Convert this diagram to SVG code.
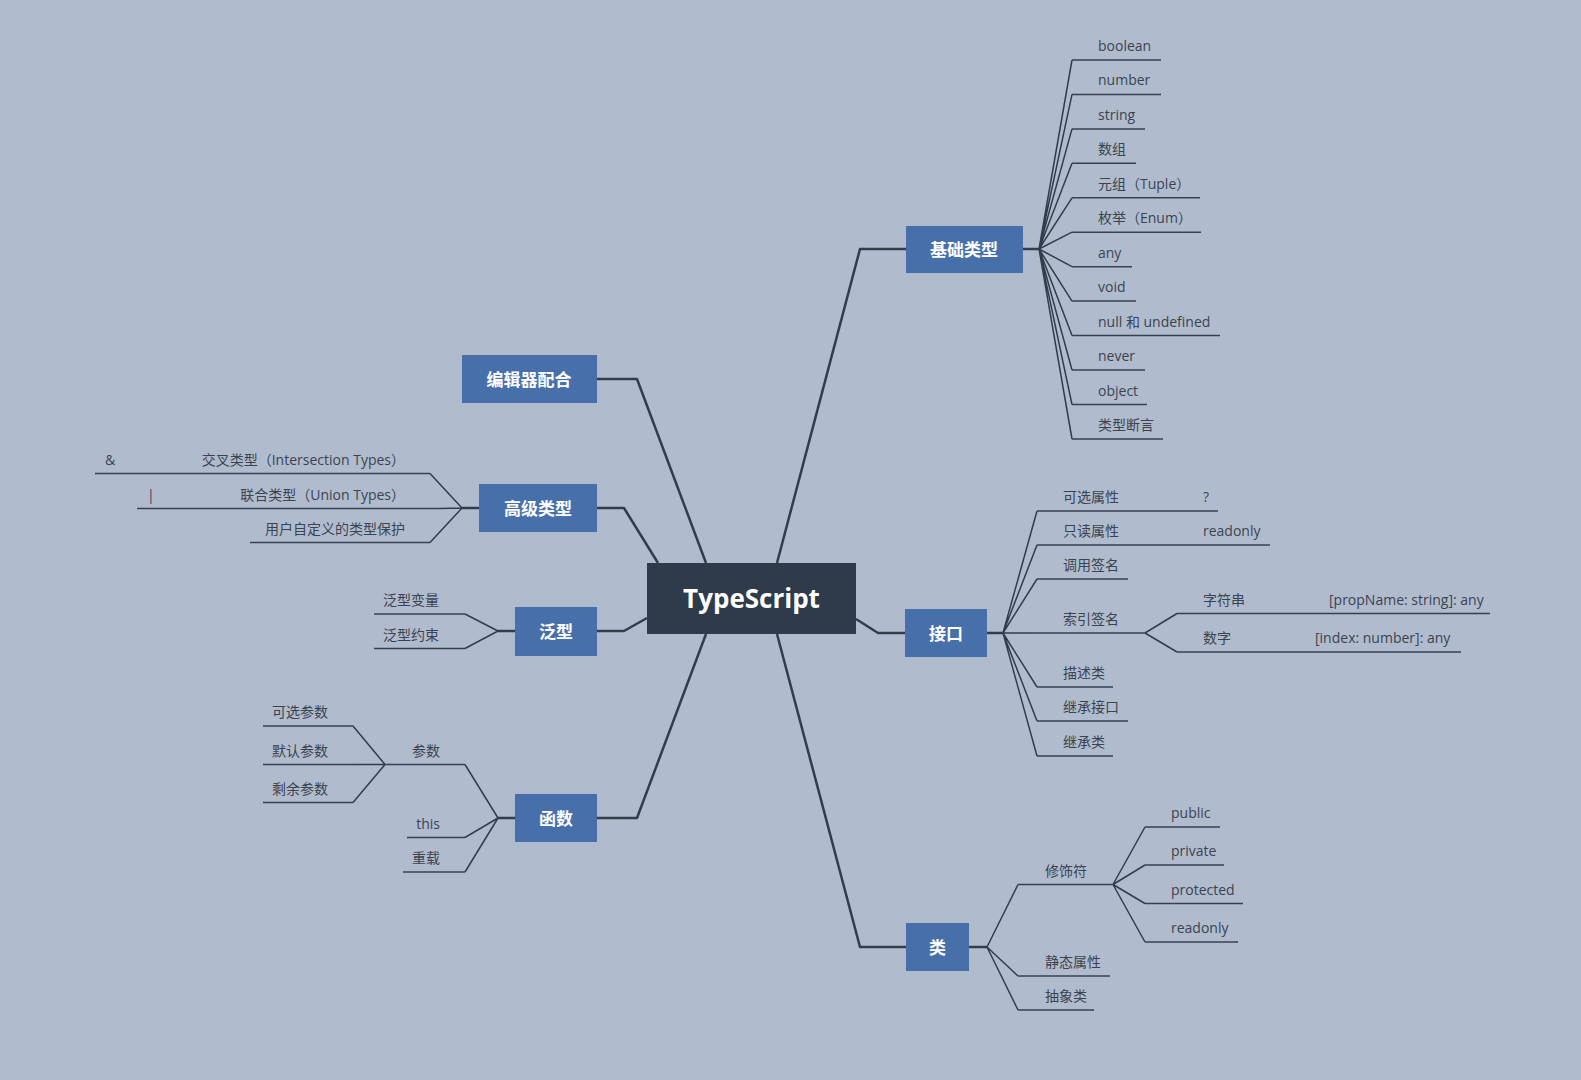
<svg xmlns="http://www.w3.org/2000/svg" width="1581" height="1080" viewBox="0 0 1581 1080">
<style>
.bg{fill:#b0bccd}
.main rect{fill:#4770ab}
.main text{fill:#ffffff;font-family:"Open Sans","Noto Sans CJK SC",sans-serif;font-size:17px;font-weight:bold;text-anchor:middle}
.root rect{fill:#2f3b4b}
.root text{fill:#ffffff;font-family:"Open Sans","Noto Sans CJK SC",sans-serif;font-size:26px;font-weight:bold;text-anchor:middle}
.leaf text{fill:#3b4351;font-family:"Open Sans","Noto Sans CJK SC",sans-serif;font-size:14px}
.leaf .r{text-anchor:end}
.leaf line{stroke:#36414f;stroke-width:1.5}
#connectors path{fill:none;stroke:#323d4c;stroke-linejoin:round}
#connectors .m{stroke-width:2.5}
#connectors .s{stroke-width:1.5}
</style>
<rect class="bg" x="0" y="0" width="1581" height="1080"/>

<g id="connectors">
  <!-- main branches -->
  <path class="m" d="M856,619 L878,633 L905,633"/>
  <path class="m" d="M777,563 L860,249 L906,249"/>
  <path class="m" d="M706,563 L637,379 L597,379"/>
  <path class="m" d="M658,563 L624,508 L597,508"/>
  <path class="m" d="M647,618 L624,631 L597,631"/>
  <path class="m" d="M706,634 L637,818 L597,818"/>
  <path class="m" d="M777,634 L860,947 L906,947"/>
  <!-- stems -->
  <path class="m" d="M1023,249 L1039,249"/>
  <path class="m" d="M987,633 L1003,633"/>
  <path class="m" d="M969,947 L987,947"/>
  <path class="m" d="M479,508 L462,508"/>
  <path class="m" d="M515,631 L498,631"/>
  <path class="m" d="M515,818 L498,818"/>
  <!-- 基础类型 fan -->
  <path class="s" d="M1039,249 L1072,60 M1039,249 L1072,94.4 M1039,249 L1072,128.9 M1039,249 L1072,163.3 M1039,249 L1072,197.8 M1039,249 L1072,232.2 M1039,249 L1072,266.7 M1039,249 L1072,301.1 M1039,249 L1072,335.6 M1039,249 L1072,370 M1039,249 L1072,404.5 M1039,249 L1072,439"/>
  <!-- 高级类型 fan -->
  <path class="s" d="M462,508 L430,473.5 M462,508 L440,508.5 M462,508 L430,542.5"/>
  <!-- 泛型 fan -->
  <path class="s" d="M498,631 L465,614 M498,631 L465,648.5"/>
  <!-- 函数 fan -->
  <path class="s" d="M498,818 L465,764.5 M498,818 L465,837.5 M498,818 L465,872"/>
  <path class="s" d="M385,764.5 L353,726 M385,764.5 L353,764.5 M385,764.5 L353,802.5"/>
  <!-- 接口 fan -->
  <path class="s" d="M1003,633 L1037,511 M1003,633 L1037,545 M1003,633 L1037,579 M1003,633 L1037,633 M1003,633 L1037,687 M1003,633 L1037,721 M1003,633 L1037,756"/>
  <path class="s" d="M1145,633 L1177,613.5 M1145,633 L1177,652"/>
  <!-- 类 fan -->
  <path class="s" d="M987,947 L1018,884.5 M987,947 L1018,976 M987,947 L1018,1010"/>
  <path class="s" d="M1113,884.5 L1145,827 M1113,884.5 L1145,865 M1113,884.5 L1145,903.5 M1113,884.5 L1145,942"/>
</g>

<g id="root" class="root"><rect x="647" y="563" width="209" height="71"/><text x="751.5" y="608">TypeScript</text></g>

<g id="n-basic" class="main"><rect x="906" y="226" width="117" height="47"/><text x="964" y="256">基础类型</text></g>
<g id="n-editor" class="main"><rect x="462" y="355" width="135" height="48"/><text x="529" y="385.5">编辑器配合</text></g>
<g id="n-advanced" class="main"><rect x="479" y="484" width="118" height="48"/><text x="538" y="514.5">高级类型</text></g>
<g id="n-generic" class="main"><rect x="515" y="607" width="82" height="49"/><text x="556" y="638">泛型</text></g>
<g id="n-function" class="main"><rect x="515" y="794" width="82" height="48"/><text x="556" y="824.5">函数</text></g>
<g id="n-interface" class="main"><rect x="905" y="609" width="82" height="48"/><text x="946" y="639.5">接口</text></g>
<g id="n-class" class="main"><rect x="906" y="923" width="63" height="48"/><text x="937.5" y="953.5">类</text></g>

<!-- 基础类型 leaves -->
<g id="b-boolean" class="leaf"><line x1="1072" y1="60" x2="1161" y2="60"/><text x="1098" y="51">boolean</text></g>
<g id="b-number" class="leaf"><line x1="1072" y1="94.4" x2="1161" y2="94.4"/><text x="1098" y="85.4">number</text></g>
<g id="b-string" class="leaf"><line x1="1072" y1="128.9" x2="1145" y2="128.9"/><text x="1098" y="119.9">string</text></g>
<g id="b-array" class="leaf"><line x1="1072" y1="163.3" x2="1136" y2="163.3"/><text x="1098" y="154.3">数组</text></g>
<g id="b-tuple" class="leaf"><line x1="1072" y1="197.8" x2="1200" y2="197.8"/><text x="1098" y="188.8">元组（Tuple）</text></g>
<g id="b-enum" class="leaf"><line x1="1072" y1="232.2" x2="1201" y2="232.2"/><text x="1098" y="223.2">枚举（Enum）</text></g>
<g id="b-any" class="leaf"><line x1="1072" y1="266.7" x2="1132" y2="266.7"/><text x="1098" y="257.7">any</text></g>
<g id="b-void" class="leaf"><line x1="1072" y1="301.1" x2="1136" y2="301.1"/><text x="1098" y="292.1">void</text></g>
<g id="b-null" class="leaf"><line x1="1072" y1="335.6" x2="1220" y2="335.6"/><text x="1098" y="326.6">null 和 undefined</text></g>
<g id="b-never" class="leaf"><line x1="1072" y1="370" x2="1145" y2="370"/><text x="1098" y="361">never</text></g>
<g id="b-object" class="leaf"><line x1="1072" y1="404.5" x2="1147" y2="404.5"/><text x="1098" y="395.5">object</text></g>
<g id="b-assert" class="leaf"><line x1="1072" y1="439" x2="1163" y2="439"/><text x="1098" y="430">类型断言</text></g>

<!-- 高级类型 leaves -->
<g id="a-intersection" class="leaf"><line x1="95" y1="473.5" x2="430" y2="473.5"/><text class="r" x="405" y="464.5">交叉类型（Intersection Types）</text></g>
<g id="a-amp" class="leaf"><text x="105" y="464.5">&amp;</text></g>
<g id="a-union" class="leaf"><line x1="137" y1="508.5" x2="440" y2="508.5"/><text class="r" x="405" y="499.5">联合类型（Union Types）</text></g>
<g id="a-pipe" class="leaf"><text x="147" y="499.5">|</text></g>
<g id="a-guard" class="leaf"><line x1="250" y1="542.5" x2="430" y2="542.5"/><text class="r" x="405" y="533.5">用户自定义的类型保护</text></g>

<!-- 泛型 leaves -->
<g id="g-var" class="leaf"><line x1="374" y1="614" x2="465" y2="614"/><text class="r" x="439" y="605">泛型变量</text></g>
<g id="g-con" class="leaf"><line x1="374" y1="648.5" x2="465" y2="648.5"/><text class="r" x="439" y="639.5">泛型约束</text></g>

<!-- 函数 leaves -->
<g id="f-params" class="leaf"><line x1="385" y1="764.5" x2="465" y2="764.5"/><text class="r" x="440" y="755.5">参数</text></g>
<g id="f-this" class="leaf"><line x1="407" y1="837.5" x2="465" y2="837.5"/><text class="r" x="440" y="828.5">this</text></g>
<g id="f-overload" class="leaf"><line x1="403" y1="872" x2="465" y2="872"/><text class="r" x="440" y="863">重载</text></g>
<g id="p-optional" class="leaf"><line x1="263" y1="726" x2="353" y2="726"/><text class="r" x="328" y="717">可选参数</text></g>
<g id="p-default" class="leaf"><line x1="263" y1="764.5" x2="353" y2="764.5"/><text class="r" x="328" y="755.5">默认参数</text></g>
<g id="p-rest" class="leaf"><line x1="263" y1="802.5" x2="353" y2="802.5"/><text class="r" x="328" y="793.5">剩余参数</text></g>

<!-- 接口 leaves -->
<g id="i-optional" class="leaf"><line x1="1037" y1="511" x2="1218" y2="511"/><text x="1063" y="502">可选属性</text><text x="1203" y="502">?</text></g>
<g id="i-readonly" class="leaf"><line x1="1037" y1="545" x2="1270" y2="545"/><text x="1063" y="536">只读属性</text><text x="1203" y="536">readonly</text></g>
<g id="i-call" class="leaf"><line x1="1037" y1="579" x2="1128" y2="579"/><text x="1063" y="570">调用签名</text></g>
<g id="i-index" class="leaf"><line x1="1037" y1="633" x2="1145" y2="633"/><text x="1063" y="624">索引签名</text></g>
<g id="i-str" class="leaf"><line x1="1177" y1="613.5" x2="1490" y2="613.5"/><text x="1203" y="604.5">字符串</text><text x="1329" y="604.5">[propName: string]: any</text></g>
<g id="i-num" class="leaf"><line x1="1177" y1="652" x2="1461" y2="652"/><text x="1203" y="643">数字</text><text x="1315" y="643">[index: number]: any</text></g>
<g id="i-class" class="leaf"><line x1="1037" y1="687" x2="1113" y2="687"/><text x="1063" y="678">描述类</text></g>
<g id="i-extiface" class="leaf"><line x1="1037" y1="721" x2="1128" y2="721"/><text x="1063" y="712">继承接口</text></g>
<g id="i-extclass" class="leaf"><line x1="1037" y1="756" x2="1113" y2="756"/><text x="1063" y="747">继承类</text></g>

<!-- 类 leaves -->
<g id="c-mod" class="leaf"><line x1="1018" y1="884.5" x2="1113" y2="884.5"/><text x="1045" y="875.5">修饰符</text></g>
<g id="c-static" class="leaf"><line x1="1018" y1="976" x2="1110" y2="976"/><text x="1045" y="967">静态属性</text></g>
<g id="c-abstract" class="leaf"><line x1="1018" y1="1010" x2="1094" y2="1010"/><text x="1045" y="1001">抽象类</text></g>
<g id="m-public" class="leaf"><line x1="1145" y1="827" x2="1220" y2="827"/><text x="1171" y="818">public</text></g>
<g id="m-private" class="leaf"><line x1="1145" y1="865" x2="1224" y2="865"/><text x="1171" y="856">private</text></g>
<g id="m-protected" class="leaf"><line x1="1145" y1="903.5" x2="1243" y2="903.5"/><text x="1171" y="894.5">protected</text></g>
<g id="m-readonly" class="leaf"><line x1="1145" y1="942" x2="1238" y2="942"/><text x="1171" y="933">readonly</text></g>
</svg>
